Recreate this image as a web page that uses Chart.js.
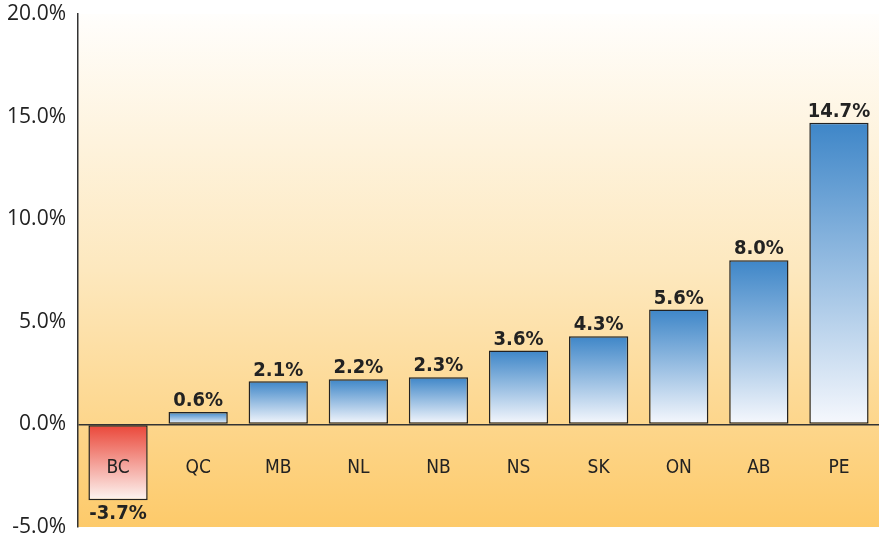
<!DOCTYPE html>
<html>
<head>
<meta charset="utf-8">
<script src="https://cdn.jsdelivr.net/npm/chart.js@4"></script>
<style>
	body { margin: 0; background: #fff; }
	#wrap { width: 879px; height: 538px; }
</style>
</head>
<body>
<div id="wrap"><canvas id="provinceChart"></canvas></div>
<script>
const provinces = ["BC", "QC", "MB", "NL", "NB", "NS", "SK", "ON", "AB", "PE"];
const changes = [-3.7, 0.6, 2.1, 2.2, 2.3, 3.6, 4.3, 5.6, 8.0, 14.7];
const yTicks = [-5, 0, 5, 10, 15, 20];

const narrow = "'DejaVu Sans Condensed', 'Liberation Sans Narrow', sans-serif";

// per-bar vertical gradient: coloured at the far end, white at zero
function barFill(context) {
	const chart = context.chart;
	if (!chart.chartArea) return "#4a88c9";
	const v = changes[context.dataIndex];
	const y = chart.scales.y;
	const top = y.getPixelForValue(Math.max(v, 0));
	const bottom = y.getPixelForValue(Math.min(v, 0));
	const g = chart.ctx.createLinearGradient(0, top, 0, bottom);
	if (v < 0) {
		g.addColorStop(0, "#ea4537");
		g.addColorStop(1, "#fdf6f3");
	} else {
		g.addColorStop(0, "#3e86c8");
		g.addColorStop(1, "#f6f8fd");
	}
	return g;
}

const backdrop = {
	id: "backdrop",
	beforeDraw(chart) {
		const { ctx, chartArea: a } = chart;
		const g = ctx.createLinearGradient(0, a.top, 0, a.bottom);
		g.addColorStop(0, "#fffefc");
		g.addColorStop(0.5, "#fde8be");
		g.addColorStop(1, "#fdca6a");
		ctx.save();
		ctx.fillStyle = g;
		ctx.fillRect(a.left, a.top, a.right - a.left, a.bottom - a.top);
		ctx.restore();
	},
};

const barText = {
	id: "barText",
	afterDatasetsDraw(chart) {
		const ctx = chart.ctx;
		const x = chart.scales.x;
		const y = chart.scales.y;
		ctx.save();
		ctx.textAlign = "center";
		ctx.fillStyle = "#222";
		// category names just under the zero line
		ctx.font = "19px " + narrow;
		ctx.textBaseline = "middle";
		provinces.forEach((p, i) => {
			ctx.fillText(p, x.getPixelForValue(i), y.getPixelForValue(-2.15));
		});
		// values
		ctx.font = "bold 20px " + narrow;
		changes.forEach((v, i) => {
			const px = x.getPixelForValue(i);
			const py = y.getPixelForValue(v);
			if (v < 0) {
				ctx.textBaseline = "top";
				ctx.fillText(v.toFixed(1) + "%", px, py + 3);
			} else {
				ctx.textBaseline = "bottom";
				ctx.fillText(v.toFixed(1) + "%", px, py - 1);
			}
		});
		ctx.restore();
	},
};

new Chart(document.getElementById("provinceChart"), {
	type: "bar",
	data: {
		labels: provinces,
		datasets: [
			{
				data: changes,
				backgroundColor: barFill,
				borderColor: "#222",
				borderWidth: 1.5,
				borderSkipped: false,
				barPercentage: 0.74,
				categoryPercentage: 1,
			},
		],
	},
	options: {
		responsive: true,
		maintainAspectRatio: false,
		animation: false,
		layout: { padding: { top: 14, bottom: 11, right: 0 } },
		plugins: {
			legend: { display: false },
			tooltip: { enabled: false },
		},
		scales: {
			x: { display: false },
			y: {
				min: -5,
				max: 20,
				afterBuildTicks: (axis) => {
					axis.ticks = yTicks.map((v) => ({ value: v }));
				},
				afterFit: (axis) => {
					axis.width = 78;
					axis.paddingTop = 0;
					axis.paddingBottom = 0;
				},
				border: { display: true, color: "#333", width: 1.5 },
				grid: {
					drawTicks: false,
					lineWidth: 1.5,
					color: (c) => (c.tick && c.tick.value === 0 ? "#333" : "transparent"),
				},
				ticks: {
					padding: 12,
					color: "#222",
					font: { family: "'Open Sans', sans-serif", size: 21 },
					callback: (v) => Number(v).toFixed(1) + "%",
				},
			},
		},
	},
	plugins: [backdrop, barText],
});
</script>
</body>
</html>
